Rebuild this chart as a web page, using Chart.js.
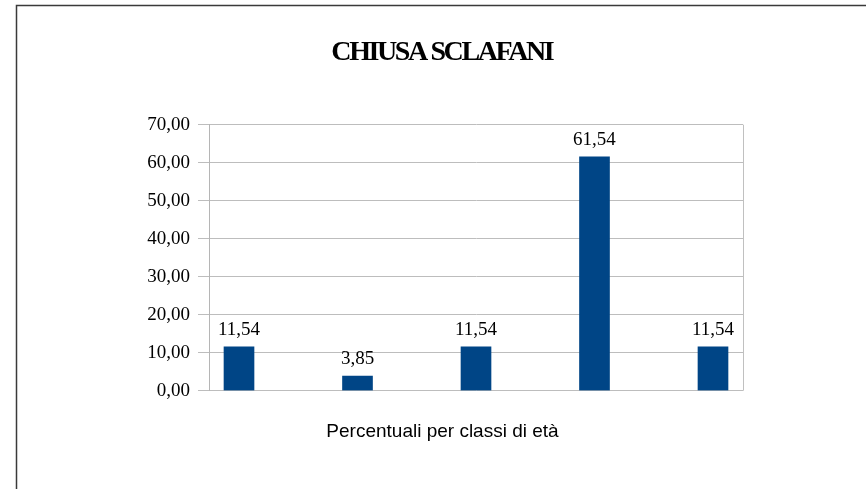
<!DOCTYPE html>
<html>
<head>
<meta charset="utf-8">
<script src="https://cdn.jsdelivr.net/npm/chart.js@4/dist/chart.umd.min.js"></script>
<style>
  html, body { margin: 0; padding: 0; background: #ffffff; }
  #wrap { width: 866px; height: 489px; position: relative; }
</style>
</head>
<body>
<div id="wrap"><canvas id="c" width="866" height="489"></canvas></div>
<script>
const chartTitle = "CHIUSA SCLAFANI";
const axisTitle = "Percentuali per classi di età";
const categories = [1, 2, 3, 4, 5];
const values = [11.54, 3.85, 11.54, 61.54, 11.54];
const yTicks = [0, 10, 20, 30, 40, 50, 60, 70];

const fmt = v => v.toFixed(2).replace('.', ',');

const decor = {
  id: 'decor',
  beforeDraw(chart) {
    const ctx = chart.ctx;
    ctx.save();
    ctx.fillStyle = '#ffffff';
    ctx.fillRect(0, 0, chart.width, chart.height);
    ctx.strokeStyle = '#3a3a3a';
    ctx.lineWidth = 1.5;
    ctx.beginPath();
    ctx.moveTo(16.5, chart.height + 2);
    ctx.lineTo(16.5, 5.5);
    ctx.lineTo(chart.width + 2, 5.5);
    ctx.stroke();
    ctx.restore();
  },
  afterDraw(chart) {
    const ctx = chart.ctx;
    const a = chart.chartArea;
    ctx.save();
    ctx.strokeStyle = '#c0c0c0';
    ctx.lineWidth = 1;
    ctx.beginPath();
    ctx.moveTo(Math.round(a.right) + 0.5, a.top);
    ctx.lineTo(Math.round(a.right) + 0.5, a.bottom);
    ctx.stroke();

    ctx.fillStyle = '#000000';
    ctx.font = 'bold 28px "Liberation Serif", "Times New Roman", serif';
    ctx.textAlign = 'center';
    ctx.textBaseline = 'alphabetic';
    if ('letterSpacing' in ctx) {
      ctx.letterSpacing = '-2.4px';
      ctx.fillText(chartTitle, 443 - 1.2, 60);
      ctx.letterSpacing = '0px';
    } else {
      ctx.save();
      ctx.translate(443, 60);
      ctx.scale(0.87, 1);
      ctx.fillText(chartTitle, 0, 0);
      ctx.restore();
    }

    ctx.font = '19px "Liberation Sans", Arial, sans-serif';
    ctx.fillText(axisTitle, 442.5, 437);

    ctx.font = '19px "Liberation Serif", "Times New Roman", serif';
    const meta = chart.getDatasetMeta(0);
    meta.data.forEach((bar, i) => {
      ctx.fillText(fmt(values[i]), bar.x, bar.y - 12);
    });
    ctx.restore();
  }
};

new Chart(document.getElementById('c'), {
  type: 'bar',
  data: {
    datasets: [{
      data: categories.map((c, i) => ({ x: c, y: values[i] })),
      backgroundColor: '#004586',
      borderWidth: 0,
      barThickness: 30
    }]
  },
  options: {
    responsive: false,
    animation: false,
    devicePixelRatio: 1,
    layout: { padding: { left: 0, right: 123, top: 124.7, bottom: 98.3 } },
    plugins: {
      legend: { display: false },
      title: { display: false },
      tooltip: { enabled: false }
    },
    scales: {
      x: {
        type: 'linear',
        display: false,
        min: 0.7468,
        max: 5.2532,
        offset: false
      },
      y: {
        min: 0,
        max: 70,
        afterFit: s => { s.width = 209; },
        afterBuildTicks: s => { s.ticks = yTicks.map(v => ({ value: v })); },
        ticks: {
          padding: 8,
          color: '#000000',
          font: { family: '"Liberation Serif", "Times New Roman", serif', size: 19 },
          callback: v => fmt(v)
        },
        grid: {
          color: '#bdbdbd',
          lineWidth: 1,
          drawTicks: true,
          tickLength: 11,
          tickColor: '#bdbdbd'
        },
        border: { display: true, color: '#b5b5b5', width: 1 }
      }
    }
  },
  plugins: [decor]
});
</script>
</body>
</html>
